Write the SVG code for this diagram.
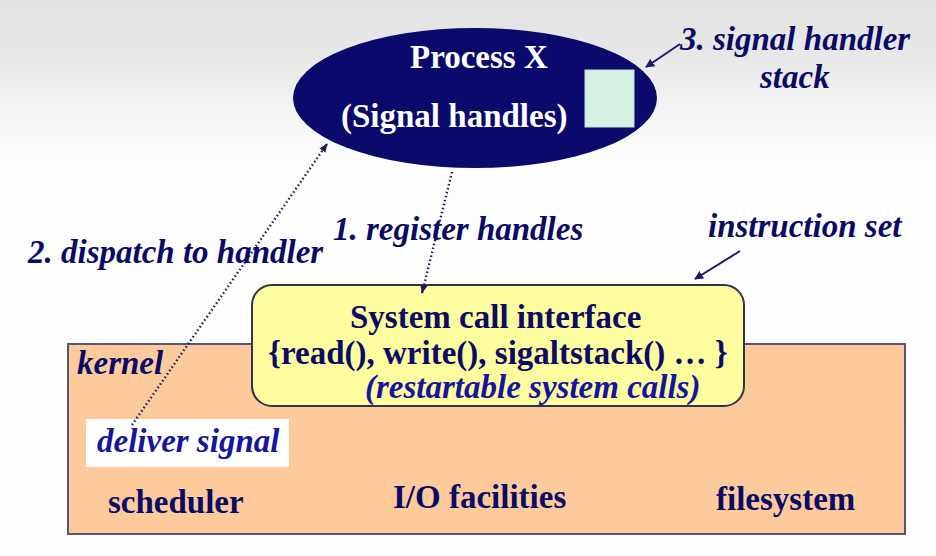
<svg xmlns="http://www.w3.org/2000/svg" width="936" height="556" viewBox="0 0 936 556">
<defs>
<linearGradient id="bg" x1="0" y1="0" x2="0" y2="1">
<stop offset="0" stop-color="#e2e2e2"/>
<stop offset="0.1" stop-color="#e8e8e8"/>
<stop offset="0.28" stop-color="#fdfdfd"/>
<stop offset="1" stop-color="#ffffff"/>
</linearGradient>
<marker id="ah" viewBox="0 0 10 10" refX="9" refY="5" markerWidth="9" markerHeight="9" orient="auto" markerUnits="userSpaceOnUse">
<path d="M0,0 L10,5 L0,10 z" fill="#1a1a6e"/>
</marker>
<marker id="ahd" viewBox="0 0 10 10" refX="9" refY="5" markerWidth="9" markerHeight="9" orient="auto" markerUnits="userSpaceOnUse">
<path d="M0,1 L10,5 L0,9 z" fill="#1a1a5e"/>
</marker>
</defs>
<style>
.dot{stroke:#1a1a5e;stroke-width:2.4;stroke-dasharray:1.5 2.6;fill:none}
.sol{stroke:#1a1a6e;stroke-width:2;fill:none}
</style>
<rect width="936" height="556" fill="url(#bg)"/>

<g font-family="'Liberation Serif', serif" font-weight="bold" font-size="33" fill="#0b0b66">

<g id="kernel">
<rect x="68" y="344" width="837" height="190" fill="#fdcb9b" stroke="#55557a" stroke-width="2"/>
<text x="77" y="374" font-style="italic">kernel</text>
<text x="108" y="513">scheduler</text>
<text x="393" y="508">I/O facilities</text>
<text x="716" y="510">filesystem</text>
</g>

<g id="deliver">
<rect x="86" y="419" width="203" height="48" fill="#ffffff"/>
<text x="97" y="452" font-style="italic" fill="#1616a0">deliver signal</text>
</g>

<g id="syscall">
<rect x="252" y="285" width="492" height="121" rx="20" ry="20" fill="#fdfd9f" stroke="#33334a" stroke-width="2"/>
<text x="350" y="328">System call interface</text>
<text x="268" y="364">{read(), write(), sigaltstack() … }</text>
<text x="365" y="398" font-style="italic" fill="#1414a0">(restartable system calls)</text>
</g>

<g id="process">
<ellipse cx="475" cy="98" rx="182" ry="70" fill="#0a0a6c"/>
<text x="410" y="68" fill="#ffffff">Process X</text>
<text x="341" y="127" fill="#ffffff">(Signal handles)</text>
<rect id="stack" x="585" y="70" width="49" height="57" fill="#d6f1e4" stroke="#bfe3d0" stroke-width="1"/>
</g>

<g id="labels" font-style="italic">
<text x="333" y="240">1. register handles</text>
<text x="28" y="263">2. dispatch to handler</text>
<text x="708" y="237">instruction set</text>
<text x="680" y="50">3. signal handler</text>
<text x="760" y="88">stack</text>
</g>
</g>

<g id="connectors">
<line class="dot" x1="452" y1="172" x2="422" y2="293" marker-end="url(#ahd)"/>
<line class="dot" x1="132" y1="425" x2="327" y2="144" marker-end="url(#ahd)"/>
<line class="sol" x1="680" y1="44" x2="646" y2="67" marker-end="url(#ah)"/>
<line class="sol" x1="740" y1="251" x2="695" y2="279" marker-end="url(#ah)"/>
</g>
</svg>
